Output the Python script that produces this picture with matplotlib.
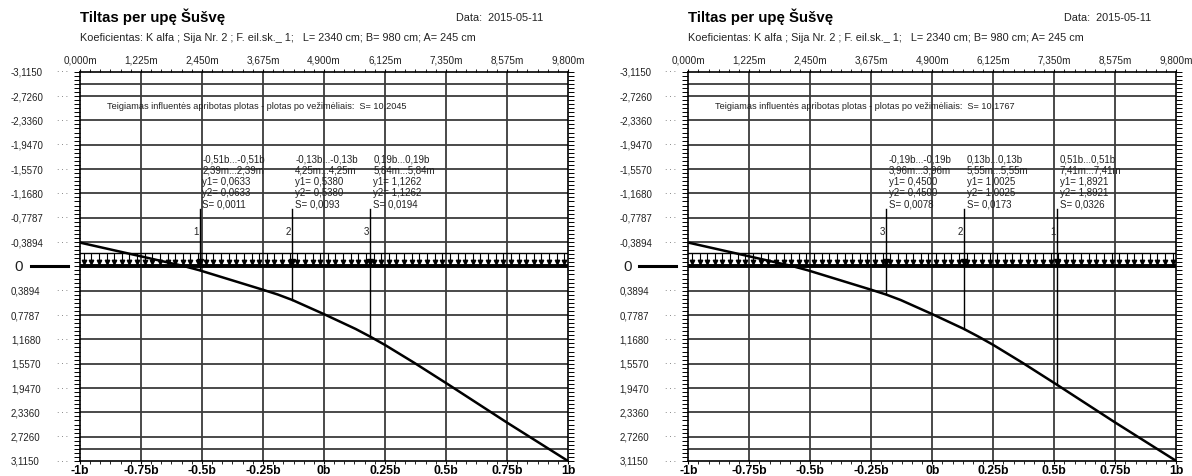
import numpy as np
import matplotlib
matplotlib.use("Agg")
import matplotlib.pyplot as plt
from matplotlib.ticker import MultipleLocator

W, H, DPI = 1192, 477, 100

title = "Tiltas per upę Šušvę"
date_text = "Data:  2015-05-11"
subtitle = "Koeficientas: K alfa ; Sija Nr. 2 ; F. eil.sk._ 1;   L= 2340 cm; B= 980 cm; A= 245 cm"
area_caption = "Teigiamas influentės apribotas plotas - plotas po vežimėliais:  S= "

# vertical scale (ordinates of the influence line)
y_labels = ["-3,1150", "-2,7260", "-2,3360", "-1,9470", "-1,5570", "-1,1680", "-0,7787", "-0,3894",
            "0", "0,3894", "0,7787", "1,1680", "1,5570", "1,9470", "2,3360", "2,7260", "3,1150"]
y_limit = 3.115
extra_grid = [-2.92, 2.92]

# transverse position in units of half-width b, and in metres
x_pos = [-1.0, -0.75, -0.5, -0.25, 0.0, 0.25, 0.5, 0.75, 1.0]
x_bottom_labels = ["-1b", "-0.75b", "-0.5b", "-0.25b", "0b", "0.25b", "0.5b", "0.75b", "1b"]
x_top_labels = ["0,000m", "1,225m", "2,450m", "3,675m", "4,900m", "6,125m", "7,350m", "8,575m", "9,800m"]

# influence line ordinates
curve_b = [-1.00, -0.75, -0.57, -0.51, -0.25, -0.19, -0.13, 0.00, 0.13, 0.19, 0.25, 0.37, 0.51, 0.75, 1.00]
curve_y = [-0.38, -0.16, 0.00, 0.0633, 0.375, 0.45, 0.538, 0.765, 1.0025, 1.1262, 1.258, 1.544, 1.8921, 2.50, 3.115]

# wheel positions, left case
left_num = [1, 2, 3]
left_b = [-0.51, -0.13, 0.19]
left_m = [2.39, 4.25, 5.84]
left_y = [0.0633, 0.5380, 1.1262]
left_S = [0.0011, 0.0093, 0.0194]
left_total = 10.2045

# wheel positions, right case
right_num = [3, 2, 1]
right_b = [-0.19, 0.13, 0.51]
right_m = [3.96, 5.55, 7.41]
right_y = [0.4500, 1.0025, 1.8921]
right_S = [0.0078, 0.0173, 0.0326]
right_total = 10.1767

NARROW = ["Liberation Sans Narrow", "Liberation Sans", "DejaVu Sans"]
REG = ["Liberation Sans", "DejaVu Sans"]
GRID = "#3c3c3c"
TXT = "#222222"


def fmt(v, nd):
    return f"{v:.{nd}f}".replace(".", ",")


fig = plt.figure(figsize=(W / DPI, H / DPI), dpi=DPI)
fig.patch.set_facecolor("white")

AX_W, AX_B, AX_H = 488, 15, 389.3


def draw_panel(x0, nums, bs, ms, ys, Ss, total):
    # header
    fig.text(x0 / W, 1 - 17 / H, title, family=REG, fontsize=10.8, fontweight="bold",
             ha="left", va="center")
    fig.text((x0 + 463) / W, 1 - 18 / H, date_text, family=REG, fontsize=7.8,
             ha="right", va="center", color=TXT)
    fig.text(x0 / W, 1 - 38 / H, subtitle, family=NARROW, fontsize=7.8,
             ha="left", va="center", color=TXT)

    ax = fig.add_axes([x0 / W, AX_B / H, AX_W / W, AX_H / H])
    ax.set_xlim(-1, 1)
    ax.set_ylim(y_limit, -y_limit)

    y_vals = [float(s.replace(",", ".")) for s in y_labels]

    # grid
    for v in y_vals + extra_grid:
        if abs(v) < 1e-9 or abs(abs(v) - y_limit) < 1e-9:
            continue
        ax.axhline(v, color=GRID, lw=1.3, zorder=1)
    for b in x_pos[1:-1]:
        ax.axvline(b, color=GRID, lw=1.3, zorder=1)

    # uniform load band with arrows
    band_top, head = -0.21, -0.075
    ax.plot([-1, 1], [band_top, band_top], color="k", lw=1.0, zorder=3)
    ax.plot([-1, 1], [0, 0], color="k", lw=2.8, zorder=4)
    xa = np.linspace(-0.985, 0.985, 64)
    ax.vlines(xa, band_top, head, color="k", lw=0.8, zorder=3)
    ax.plot(xa, np.full_like(xa, head), ls="none", marker="v", ms=3.2, color="k", zorder=3)

    # influence line
    ax.plot(curve_b, curve_y, color="k", lw=1.8, zorder=5, solid_capstyle="round",
            solid_joinstyle="round")

    # wheels
    for n, b, m, y1, s in zip(nums, bs, ms, ys, Ss):
        ax.plot([b, b], [-0.915, y1], color="k", lw=1.0, zorder=4)
        ax.plot([b], [head], ls="none", marker="v", ms=4.2, color="k", zorder=4)
        ax.text(b - 0.004, -0.57, str(n), family=NARROW, fontsize=7, ha="right", va="center",
                color=TXT, zorder=6)
        block = "\n".join([
            f"{fmt(b, 2)}b...{fmt(b, 2)}b",
            f"{fmt(m, 2)}m...{fmt(m, 2)}m",
            f"y1= {fmt(y1, 4)}",
            f"y2= {fmt(y1, 4)}",
            f"S= {fmt(s, 4)}",
        ])
        ax.text(b + 0.012, -1.80, block, family=NARROW, fontsize=7, ha="left", va="top",
                linespacing=1.13, color=TXT, zorder=6)

    ax.text(-0.891, -2.576, area_caption + fmt(total, 4), family=NARROW, fontsize=6.6,
            ha="left", va="center", color=TXT, zorder=6)

    # spines and ticks
    for sp in ax.spines.values():
        sp.set_color("k")
        sp.set_linewidth(1.2)
    ax.set_xticks(x_pos)
    ax.set_xticklabels(x_bottom_labels, family=REG, fontsize=8.8, fontweight="bold")
    ax.xaxis.set_minor_locator(MultipleLocator(0.25 / 6))
    ax.tick_params(axis="x", which="major", direction="out", length=2, width=0.8,
                   top=True, bottom=True, pad=0)
    ax.tick_params(axis="x", which="minor", direction="out", length=2, width=0.6,
                   top=True, bottom=True)
    ax.set_yticks([])
    ax.yaxis.set_minor_locator(MultipleLocator(y_limit / 8 / 6))
    ax.tick_params(axis="y", which="minor", direction="out", length=4, width=0.7,
                   left=True, right=True)

    # top metre labels
    xt = ax.get_xaxis_transform()
    for b, lab in zip(x_pos, x_top_labels):
        ax.annotate(lab, xy=(b, 1), xycoords=xt, xytext=(0, 5.5), textcoords="offset points",
                    ha="center", va="bottom", family=NARROW, fontsize=7.2, color=TXT)

    # left ordinate labels with leader dots
    yt = ax.get_yaxis_transform()
    for v, lab in zip(y_vals, y_labels):
        if lab == "0":
            ax.annotate("0", xy=(0, 0), xycoords=yt, xytext=(-61 * 0.72, 0),
                        textcoords="offset points", ha="center", va="center",
                        family=REG, fontsize=11, color=TXT)
            ax.plot([-49 / AX_W, -12 / AX_W], [0, 0], transform=yt, clip_on=False,
                    color="k", lw=2.2)
            continue
        ax.annotate(lab, xy=(0, v), xycoords=yt, xytext=(-69 * 0.72, 0),
                    textcoords="offset points", ha="left", va="center",
                    family=NARROW, fontsize=7, color=TXT)
        ax.annotate("· · ·", xy=(0, v), xycoords=yt, xytext=(-17.5 * 0.72, 0),
                    textcoords="offset points", ha="center", va="center",
                    family=REG, fontsize=5, color="#333333")
    return ax


draw_panel(80, left_num, left_b, left_m, left_y, left_S, left_total)
draw_panel(688.3, right_num, right_b, right_m, right_y, right_S, right_total)

fig.savefig("out.png", dpi=DPI, facecolor="white")
